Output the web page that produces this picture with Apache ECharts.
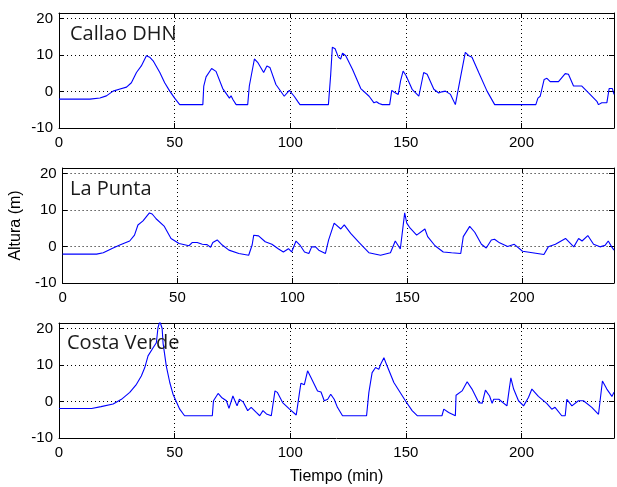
<!DOCTYPE html>
<html>
<head>
<meta charset="utf-8">
<script src="https://cdn.jsdelivr.net/npm/echarts@6/dist/echarts.min.js"></script>
<style>html,body{margin:0;padding:0;background:#fff;}#c{width:617px;height:487px;}</style>
</head>
<body>
<div id="c"></div>
<script>
// ---- data ----
var panelNames = ['Callao DHN', 'La Punta', 'Costa Verde'];
var xTicks = [0, 50, 100, 150, 200];
var yTicks = [-10, 0, 10, 20];
var xLabel = 'Tiempo (min)';
var yLabel = 'Altura (m)';

var callao = [[0,-2.1],[13.4,-2.1],[17.7,-1.8],[20.5,-1.2],[23.4,0.1],[26,0.6],[29.2,1.2],[31.3,2.4],[33.5,5.2],[35.6,7],[37.8,9.8],[39.2,9.4],[40.7,8.4],[43.6,5.2],[45.7,2.4],[47.9,0.1],[50,-1.8],[52.2,-3.6],[62.2,-3.6],[62.6,1.5],[63.6,4],[66,6.3],[67.9,5.5],[70.8,0.8],[73.7,-1.8],[74.4,-1.2],[75.2,-2.2],[76.6,-3.6],[81.6,-3.6],[82.3,1.5],[84.5,8.9],[85.9,8],[88.5,5.2],[89.9,7],[91.2,6.6],[93.8,1.9],[97.4,-1.3],[99.6,0.3],[101.7,-1.3],[102.5,-1.0],[103.2,-2.7],[104.2,-3.6],[116.5,-3.6],[117.5,4.7],[118.2,12.1],[119.4,11.7],[120.8,9.4],[121.8,8.9],[122.6,10.5],[124,9.8],[126.9,6.1],[130.5,0.8],[134.1,-1.3],[136.2,-3.1],[137.3,-2.8],[138.4,-3.3],[139.8,-3.6],[143,-3.6],[143.9,0.3],[145,-0.2],[145.6,0.2],[146.7,-0.8],[147.7,2.9],[148.8,5.6],[150.1,4.3],[152.7,0.6],[155.6,-1.3],[157.7,5.2],[159.2,4.7],[162.1,0.6],[164.2,-0.4],[165.5,-0.1],[167.1,0.1],[169.3,-0.8],[171.4,-3.6],[173.6,3.8],[175.7,10.7],[177.2,9.8],[178.6,9.4],[181.5,5.2],[185.1,0.1],[188.4,-3.6],[206.2,-3.6],[207.1,-1.8],[208.1,-1.3],[209.8,3.3],[211,3.6],[212.4,2.7],[216,2.7],[218.9,4.9],[220.3,4.7],[222.5,1.5],[226.1,1.5],[229,-0.4],[232.6,-2.7],[233.3,-3.6],[234.7,-3.1],[236.9,-3.1],[237.9,0.8],[239.3,0.8],[240,-0.8]];

var laPunta = [[0,-2.1],[14.8,-2.1],[17.7,-1.7],[22,-0.4],[24.9,0.4],[29.2,1.5],[31.3,3.1],[32.8,5.9],[35,7],[37.8,9.2],[39,8.9],[40.7,7.6],[44.3,5.5],[47.2,2.2],[50.7,0.8],[55,0.2],[56.5,1.1],[58.6,1.1],[60.8,0.6],[62.9,0.5],[64.4,-0.2],[65.4,1.1],[67.3,1.8],[69.5,0.4],[72.4,-1],[76.7,-1.9],[81,-2.4],[82.5,0.4],[83.2,3.1],[85.3,2.9],[88.2,1.3],[91.1,0.6],[94,-0.7],[96.1,-1.5],[98.3,-0.6],[99.7,-1.5],[101.6,1.5],[103.3,0.4],[105.3,-1.5],[107.2,-1.9],[108.4,-0.1],[110.1,-0.1],[111.5,-1],[114.4,-1.9],[115.8,1.8],[118.2,6.4],[119,5.9],[121.1,4.8],[122.6,5.9],[125.4,3.6],[129,1.1],[133.3,-1.7],[138.4,-2.4],[142.7,-1.7],[144.8,1.5],[147,-0.7],[148.9,9.2],[149.8,6.4],[151.3,5],[154.1,3.1],[157.7,4.8],[158.9,2.7],[162.1,0.2],[165.7,-1.5],[169.3,-1.7],[173.3,-1.9],[174.4,2.7],[177.2,5.5],[179.4,3.9],[182.3,0.6],[184.4,-0.4],[186.6,1.8],[188,2],[190.2,1],[193.7,0],[196.6,0.6],[200.2,-1.3],[204.5,-1.7],[209.5,-2.2],[211.4,-0.1],[214.5,0.6],[218.9,2.2],[222.5,-0.1],[224.6,2.2],[226.1,1.5],[228.6,3],[231.1,0.6],[233.9,-0.1],[236.1,0.3],[237.5,1.5],[239,-0.1],[240,-1]];

var costaVerde = [[0,-1.9],[14.1,-1.9],[18.2,-1.4],[23.4,-0.7],[27,0.6],[30.6,2.5],[33.5,4.7],[35.6,7],[37.1,9.3],[38.5,12.5],[40.7,14.7],[42.1,16.1],[42.8,20.2],[43.6,22],[44.6,20],[45,16],[46.4,9.7],[47.9,5.2],[49.3,2],[52.2,-2.1],[54.3,-3.9],[66.3,-3.9],[66.8,0.2],[68.8,2.2],[70.3,1.1],[72.4,0.2],[73.5,-1.9],[75.2,1.5],[77,-1.2],[78,0.6],[79.6,-0.1],[81.6,-2.5],[83.1,-1.6],[85.3,-3],[86.8,-3.9],[88.2,-2.5],[89.7,-3.4],[91.8,-3.9],[93.4,2.9],[94.4,2.5],[96.7,-0.3],[99.7,-2.1],[102.6,-3.7],[103.9,2],[104.6,5],[106.1,4.6],[107.5,8.4],[109,6.5],[111.8,2.9],[113.3,2.6],[114.7,0.2],[116.2,0.6],[117.5,2],[119,0.6],[120.4,-1.6],[122.6,-3.9],[133,-3.9],[134,2.5],[135.4,7.9],[136.9,9.3],[138.3,8.8],[139.1,10.2],[140.5,12],[141.9,9.7],[144.8,5.2],[149.8,0.2],[152.7,-2.5],[154.9,-3.9],[165.6,-3.9],[166.4,-2.1],[168.5,-3],[171.4,-3.9],[171.7,1.7],[174.3,2.9],[176.5,5.4],[178.6,3.4],[181.5,-0.3],[183,-0.5],[184.4,3.1],[186.2,1.5],[187.3,-0.5],[188,0.6],[190.2,0.6],[193.7,-1.2],[194.7,3.4],[195.4,6.5],[196.6,3.4],[198.7,0.2],[200.9,-1.2],[203,1.1],[204.5,3.4],[207.3,1.4],[210.9,-0.5],[213.1,-2.1],[214.5,-1.6],[217.4,-3.9],[218.9,-3.9],[219.6,0.6],[221.8,-1.2],[224.6,0.2],[226.8,0.2],[230.4,-1.6],[233.3,-3.5],[235,5.6],[236.9,3.4],[239.1,1.4],[240,2.5]];

var seriesData = [callao, laPunta, costaVerde];

// ---- layout / style ----
var gridTops = [13, 168, 323];
var gridH = 115;
var xMin = 0, xMax = 240, yMin = -10, yMax = 21.5;
var tickFont = 'Liberation Sans, Arial, sans-serif';
var titleTops = [45, 200, 354];
var titleLefts = [70, 70, 67];

var grids = [], xAxes = [], yAxes = [], series = [], graphics = [];
function isIn(arr, v){ for (var i=0;i<arr.length;i++){ if (Math.abs(arr[i]-v)<1e-9) return true; } return false; }

for (var i = 0; i < 3; i++) {
  grids.push({left: 59, right: 1, top: gridTops[i], height: gridH, containLabel: false});
  xAxes.push({
    type: 'value', gridIndex: i, min: xMin, max: xMax, interval: 50, position: 'bottom',
    axisLine: {show: true, onZero: false, lineStyle: {color: '#000', width: 1}},
    axisTick: {show: true, inside: true, length: 5, lineStyle: {color: '#000'}},
    axisLabel: {show: true, color: '#000', fontFamily: tickFont, fontSize: 15, margin: 7,
      formatter: function(v){ return isIn(xTicks, v) ? String(v) : ''; }},
    splitLine: {show: true, lineStyle: {color: '#000', type: [1, 3], width: 1}},
    name: i === 2 ? xLabel : '', nameLocation: 'middle', nameGap: 31,
    nameTextStyle: {color: '#000', fontFamily: tickFont, fontSize: 16}
  });
  xAxes.push({
    type: 'value', gridIndex: i, min: xMin, max: xMax, interval: 50, position: 'top',
    axisLine: {show: true, onZero: false, lineStyle: {color: '#000', width: 1}},
    axisTick: {show: true, inside: true, length: 5, lineStyle: {color: '#000'}},
    axisLabel: {show: false}, splitLine: {show: false}
  });
  yAxes.push({
    type: 'value', gridIndex: i, min: yMin, max: yMax, interval: 10, position: 'left',
    axisLine: {show: true, onZero: false, lineStyle: {color: '#000', width: 1}},
    axisTick: {show: true, inside: true, length: 5, lineStyle: {color: '#000'}},
    axisLabel: {show: true, color: '#000', fontFamily: tickFont, fontSize: 15, margin: 6,
      formatter: function(v){ return isIn(yTicks, v) ? String(v) : ''; }},
    splitLine: {show: true, lineStyle: {color: '#000', type: [1, 3], width: 1}},
    name: i === 1 ? yLabel : '', nameLocation: 'middle', nameGap: 32, nameRotate: 90,
    nameTextStyle: {color: '#000', fontFamily: tickFont, fontSize: 16}
  });
  yAxes.push({
    type: 'value', gridIndex: i, min: yMin, max: yMax, interval: 10, position: 'right',
    axisLine: {show: true, onZero: false, lineStyle: {color: '#000', width: 1}},
    axisTick: {show: true, inside: true, length: 5, lineStyle: {color: '#000'}},
    axisLabel: {show: false}, splitLine: {show: false}
  });
  series.push({
    type: 'line', name: panelNames[i], xAxisIndex: 2*i, yAxisIndex: 2*i,
    data: seriesData[i], showSymbol: false, symbol: 'none', clip: true,
    lineStyle: {color: '#0000ff', width: 1.1}, itemStyle: {color: '#0000ff'},
    z: 5
  });
  graphics.push({
    type: 'text', left: titleLefts[i], top: titleTops[i] - 21,
    style: {text: panelNames[i], fontFamily: 'Open Sans, sans-serif', fontSize: 20, fill: '#1a1a1a'},
    z: 10
  });
}

var chart = echarts.init(document.getElementById('c'), null, {renderer: 'canvas'});
chart.setOption({
  animation: false,
  backgroundColor: '#fff',
  grid: grids, xAxis: xAxes, yAxis: yAxes, series: series, graphic: graphics
});
</script>
</body>
</html>
